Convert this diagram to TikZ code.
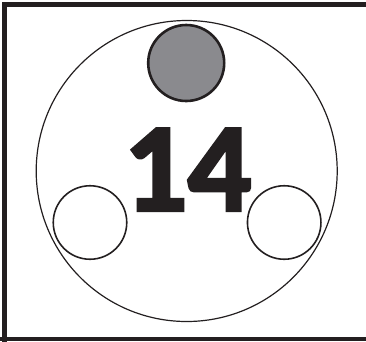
\documentclass[tikz,border=0pt]{standalone}
\usepackage{fontspec}
\setmainfont{Carlito}
\newfontfamily\heavyfont[BoldFeatures={FakeBold=2.5}]{Carlito}
\definecolor{ink}{HTML}{231F20}
\definecolor{disc}{HTML}{8A8A8E}
\begin{document}
\begin{tikzpicture}[x=1pt,y=-1pt,
  frame/.style={draw=ink,line width=4.5pt},
  outer/.style={draw=ink,line width=1.2pt},
  hole/.style={draw=ink,line width=1.6pt,fill=white},
  knob/.style={draw=ink,line width=2.6pt,fill=disc}]
\useasboundingbox (0,0) rectangle (366,341);
\draw[frame] (4.5,380) -- (4.5,4.5) -- (400,4.5);
\draw[frame] (-10,338.8) -- (400,338.8);
\node[outer,circle,minimum size=301pt,inner sep=0pt] (big) at (186.7,171) {};
\node[knob,circle,minimum size=76pt,inner sep=0pt] (top) at (186.2,63) {};
\node[hole,circle,minimum size=73.5pt,inner sep=0pt] (left) at (90,222.5) {};
\node[hole,circle,minimum size=73.5pt,inner sep=0pt] (right) at (284.2,222.5) {};
\node[text=ink,font=\heavyfont\fontsize{126}{126}\selectfont\bfseries,inner sep=0pt] (num) at (187.5,169.5) {14};
\end{tikzpicture}
\end{document}
